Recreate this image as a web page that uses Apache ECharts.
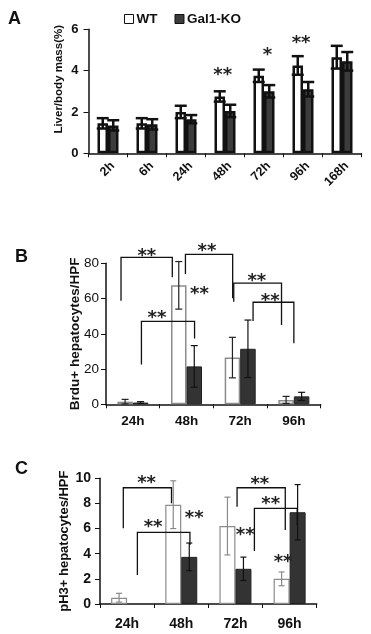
<!DOCTYPE html>
<html>
<head>
<meta charset="utf-8">
<script src="https://cdn.jsdelivr.net/npm/echarts@6/dist/echarts.min.js"></script>
<style>
  html, body { margin: 0; padding: 0; background: #fff; }
  #chart { width: 371px; height: 634px; }
</style>
</head>
<body>
<div id="chart"></div>
<script>
// panel A - liver/body mass
const catsA = ['2h', '6h', '24h', '48h', '72h', '96h', '168h']
const wtA = [1.45, 1.45, 2.0, 2.75, 3.75, 4.25, 4.65]
const wtErrA = [0.25, 0.25, 0.3, 0.25, 0.3, 0.45, 0.55]
const koA = [1.35, 1.4, 1.65, 2.05, 3.0, 3.1, 4.45]
const koErrA = [0.25, 0.25, 0.2, 0.3, 0.3, 0.35, 0.45]
const starsA = [[2.94, 4.0, '**'], [4.09, 4.96, '*'], [4.95, 5.56, '**']]

// panel B - Brdu+ hepatocytes
const catsB = ['24h', '48h', '72h', '96h']
const wtB = [1.5, 67.5, 26.5, 2.5]
const wtErrB = [1.3, 13.5, 11.5, 2.0]
const koB = [1.0, 21.5, 31.5, 4.5]
const koErrB = [0.5, 11.8, 16.3, 2.3]
// [left x, right x, top, left foot, right foot]
const bracketsB = [
  [-0.22, 0.735, 83.4, 58.8, 72.1],
  [0.98, 1.86, 85.1, 73.9, 60.1],
  [1.88, 2.77, 68.7, 58.2, 45.0],
  [2.24, 3.0, 57.9, 47.3, 34.6],
  [0.16, 1.15, 47.1, 22.6, 37.4],
]
const starsB = [[0.26, 86.6, '**'], [1.38, 89.4, '**'], [2.31, 72.4, '**'], [2.56, 61.0, '**'], [0.45, 51.6, '**'], [1.24, 65.2, '**']]

// panel C - pH3+ hepatocytes
const catsC = ['24h', '48h', '72h', '96h']
const wtC = [0.5, 7.9, 6.2, 2.0]
const wtErrC = [0.35, 1.9, 2.3, 0.55]
const koC = [null, 3.75, 2.8, 7.3]
const koErrC = [null, 1.1, 0.93, 2.2]
const bracketsC = [
  [-0.07, 0.82, 9.25, 6.02, 8.01],
  [0.19, 1.16, 5.7, 2.31, 4.69],
  [2.03, 2.92, 9.25, 7.74, 5.89],
  [2.35, 3.14, 7.61, 4.22, 6.28],
]
const starsC = [[0.36, 10.0, '**'], [0.48, 6.47, '**'], [1.24, 7.22, '**'], [2.45, 9.92, '**'], [2.65, 8.33, '**'], [2.18, 5.89, '**'], [2.88, 3.72, '**']]

const FONT = 'Liberation Sans, Arial, sans-serif'
const chart = echarts.init(document.getElementById('chart'))

function errBars(xi, yi, vals, errs, side, barW, capW, lw, color) {
  const data = []
  vals.forEach((v, i) => {
    if (v != null && errs[i] != null) data.push([i, v - errs[i], v + errs[i]])
  })
  return {
    type: 'custom',
    xAxisIndex: xi,
    yAxisIndex: yi,
    z: 5,
    silent: true,
    encode: { x: 0, y: [1, 2] },
    data,
    renderItem(params, api) {
      const lo = api.coord([api.value(0), api.value(1)])
      const hi = api.coord([api.value(0), api.value(2)])
      const x = lo[0] + side * barW / 2
      const st = { stroke: color, lineWidth: lw }
      return {
        type: 'group',
        children: [
          { type: 'line', shape: { x1: x, y1: lo[1], x2: x, y2: hi[1] }, style: st },
          { type: 'line', shape: { x1: x - capW / 2, y1: hi[1], x2: x + capW / 2, y2: hi[1] }, style: st },
          { type: 'line', shape: { x1: x - capW / 2, y1: lo[1], x2: x + capW / 2, y2: lo[1] }, style: st },
        ],
      }
    },
  }
}

function brackets(xi, yi, list) {
  return {
    type: 'custom',
    xAxisIndex: xi,
    yAxisIndex: yi,
    z: 6,
    silent: true,
    clip: false,
    data: list,
    renderItem(params, api) {
      const tl = api.coord([api.value(0), api.value(2)])
      const tr = api.coord([api.value(1), api.value(2)])
      const bl = api.coord([api.value(0), api.value(3)])
      const br = api.coord([api.value(1), api.value(4)])
      return {
        type: 'polyline',
        shape: { points: [bl, tl, tr, br] },
        style: { stroke: '#111', lineWidth: 1.3, fill: null },
      }
    },
  }
}

function stars(xi, yi, list) {
  return {
    type: 'custom',
    xAxisIndex: xi,
    yAxisIndex: yi,
    z: 7,
    silent: true,
    clip: false,
    data: list,
    renderItem(params, api) {
      const p = api.coord([api.value(0), api.value(1)])
      return {
        type: 'text',
        x: p[0],
        y: p[1] + 5,
        style: {
          text: list[params.dataIndex][2],
          fontFamily: 'DejaVu Sans',
          fontWeight: 'bold',
          fontSize: 18,
          fill: '#222',
          align: 'center',
          verticalAlign: 'middle',
        },
      }
    },
  }
}

function catAxis(gi, cats, label) {
  return {
    type: 'category',
    gridIndex: gi,
    data: cats,
    axisLine: { lineStyle: { color: '#111', width: 1.5 } },
    axisTick: { show: true, length: 4, lineStyle: { color: '#111' } },
    axisLabel: Object.assign({ color: '#111', fontFamily: FONT, fontWeight: 'bold' }, label),
  }
}

function hiddenAxis(gi, n) {
  return { type: 'value', gridIndex: gi, min: -0.5, max: n - 0.5, show: false }
}

function valAxis(gi, max, interval, name, nameGap, nameStyle, labelSize, labelMargin, weight) {
  return {
    type: 'value',
    gridIndex: gi,
    min: 0,
    max,
    interval,
    name,
    nameLocation: 'middle',
    nameGap,
    nameMoveOverlap: false,
    nameTextStyle: Object.assign({ color: '#111', fontFamily: FONT, fontWeight: 'bold' }, nameStyle),
    axisLine: { show: true, onZero: false, lineStyle: { color: '#111', width: 1.5 } },
    axisTick: { show: true, length: 5, lineStyle: { color: '#111' } },
    splitLine: { show: false },
    axisLabel: { color: '#111', fontFamily: FONT, fontWeight: weight, fontSize: labelSize, margin: labelMargin },
  }
}

chart.setOption({
  animation: false,
  backgroundColor: '#fff',
  title: [
    { text: 'A', left: 3, top: 5, textStyle: { fontFamily: FONT, fontWeight: 'bold', fontSize: 18, color: '#111' } },
    { text: 'B', left: 10, top: 243, textStyle: { fontFamily: FONT, fontWeight: 'bold', fontSize: 18, color: '#111' } },
    { text: 'C', left: 10, top: 455, textStyle: { fontFamily: FONT, fontWeight: 'bold', fontSize: 18, color: '#111' } },
  ],
  legend: {
    left: 124,
    top: 12,
    padding: 0,
    itemWidth: 9,
    itemHeight: 9,
    itemGap: 17,
    icon: 'rect',
    data: ['WT', 'Gal1-KO'],
    itemStyle: { borderWidth: 1, borderColor: '#111' },
    textStyle: { fontFamily: FONT, fontWeight: 'bold', fontSize: 13.5, color: '#111', padding: [0, 0, 0, -2] },
  },
  grid: [
    { left: 88.5, width: 273, top: 29.3, height: 124 },
    { left: 106, width: 214.7, top: 263.3, height: 141 },
    { left: 100, width: 216.7, top: 478.3, height: 125.7 },
  ],
  xAxis: [
    catAxis(0, catsA, { rotate: 45, fontSize: 12.5, margin: 6, verticalAlign: 'top' }),
    hiddenAxis(0, catsA.length),
    catAxis(1, catsB, { fontSize: 13.5, margin: 10 }),
    hiddenAxis(1, catsB.length),
    catAxis(2, catsC, { fontSize: 14, margin: 13 }),
    hiddenAxis(2, catsC.length),
  ],
  yAxis: [
    valAxis(0, 6, 2, 'Liver/body mass(%)', 24, { fontSize: 11.5, padding: [0, 0, 0, 24] }, 13, 10, 'bold'),
    valAxis(1, 80, 20, 'Brdu+ hepatocytes/HPF', 24, { fontSize: 13.5 }, 13.5, 7, 'normal'),
    valAxis(2, 10, 2, 'pH3+ hepatocytes/HPF', 29, { fontSize: 13 }, 14, 9, 'bold'),
  ],
  series: [
    // A
    { name: 'WT', type: 'bar', xAxisIndex: 0, yAxisIndex: 0, data: wtA, barWidth: 10.5, barGap: '0%',
      itemStyle: { color: '#fff', borderColor: '#111', borderWidth: 2.5 } },
    { name: 'Gal1-KO', type: 'bar', xAxisIndex: 0, yAxisIndex: 0, data: koA, barWidth: 10.5, barGap: '0%',
      itemStyle: { color: '#3c3c3c', borderColor: '#111', borderWidth: 2.5 } },
    errBars(0, 0, wtA, wtErrA, -1, 10.5, 12, 2.5, '#111'),
    errBars(0, 0, koA, koErrA, 1, 10.5, 12, 2.5, '#111'),
    stars(1, 0, starsA),
    // B
    { name: 'WT', type: 'bar', xAxisIndex: 2, yAxisIndex: 1, data: wtB, barWidth: 15.5, barGap: '0%',
      itemStyle: { color: '#fff', borderColor: '#8c8c8c', borderWidth: 1.5 } },
    { name: 'Gal1-KO', type: 'bar', xAxisIndex: 2, yAxisIndex: 1, data: koB, barWidth: 15.5, barGap: '0%',
      itemStyle: { color: '#333', borderColor: '#222', borderWidth: 1 } },
    errBars(2, 1, wtB, wtErrB, -1, 15.5, 7, 1.2, '#222'),
    errBars(2, 1, koB, koErrB, 1, 15.5, 7, 1.2, '#111'),
    brackets(3, 1, bracketsB),
    stars(3, 1, starsB),
    // C
    { name: 'WT', type: 'bar', xAxisIndex: 4, yAxisIndex: 2, data: wtC, barWidth: 16, barGap: '0%',
      itemStyle: { color: '#fff', borderColor: '#8c8c8c', borderWidth: 1.2 } },
    { name: 'Gal1-KO', type: 'bar', xAxisIndex: 4, yAxisIndex: 2, data: koC, barWidth: 16, barGap: '0%',
      itemStyle: { color: '#333', borderColor: '#222', borderWidth: 1 } },
    errBars(4, 2, wtC, wtErrC, -1, 16, 6, 1.2, '#8a8a8a'),
    errBars(4, 2, koC, koErrC, 1, 16, 6, 1.2, '#111'),
    brackets(5, 2, bracketsC),
    stars(5, 2, starsC),
  ],
})

window.addEventListener('resize', () => chart.resize())
</script>
</body>
</html>
